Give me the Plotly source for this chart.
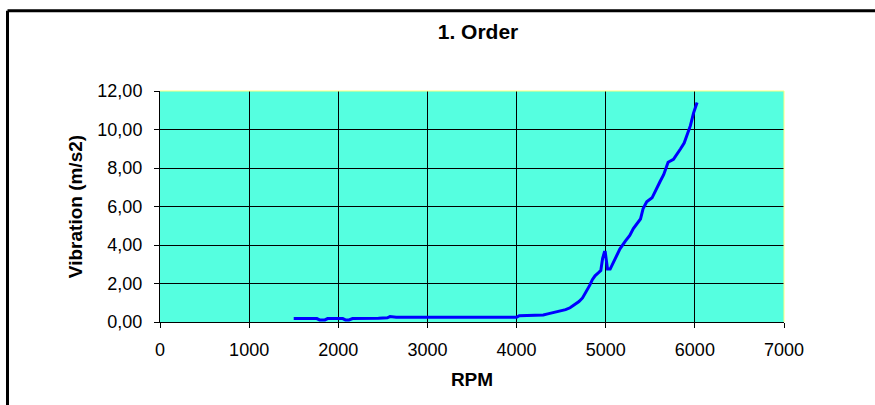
import plotly.graph_objects as go

# ---- data ----
rpm = [1500, 1600, 1700, 1760, 1790, 1850, 1880, 1950, 2050, 2080, 2120, 2160, 2250, 2350, 2450, 2550,
       2580, 2650, 2800, 3000, 3200, 3400, 3600, 3800, 4000, 4030, 4150, 4300, 4350, 4400, 4450,
       4500, 4550, 4600, 4650, 4700, 4740, 4780, 4820, 4850, 4880, 4910, 4945, 4965, 4985, 4995,
       5005, 5020, 5050, 5080, 5110, 5160, 5220, 5270, 5310, 5350, 5390, 5420, 5460, 5520, 5570,
       5610, 5650, 5700, 5760, 5800, 5840, 5880, 5910, 5950, 5985, 6005, 6025]
vib = [0.18, 0.18, 0.18, 0.18, 0.11, 0.11, 0.18, 0.18, 0.18, 0.11, 0.11, 0.18, 0.18, 0.2, 0.2, 0.22,
       0.28, 0.25, 0.25, 0.25, 0.25, 0.25, 0.25, 0.25, 0.25, 0.33, 0.34, 0.36, 0.42, 0.47, 0.51,
       0.56, 0.64, 0.74, 0.88, 1.06, 1.25, 1.55, 1.9, 2.2, 2.4, 2.52, 2.68, 3.3, 3.62, 3.62,
       3.2, 2.75, 2.75, 3.05, 3.38, 3.8, 4.2, 4.5, 4.85, 5.1, 5.35, 5.9, 6.25, 6.45, 6.95,
       7.3, 7.65, 8.3, 8.45, 8.7, 9.0, 9.3, 9.65, 10.2, 10.85, 11.1, 11.4]

x_ticks = [0, 1000, 2000, 3000, 4000, 5000, 6000, 7000]
x_labels = ["0", "1000", "2000", "3000", "4000", "5000", "6000", "7000"]
y_ticks = [0, 2, 4, 6, 8, 10, 12]
y_labels = ["0,00", "2,00", "4,00", "6,00", "8,00", "10,00", "12,00"]

title_text = "1. Order"
x_title = "RPM"
y_title = "Vibration (m/s2)"

# ---- layout geometry (pixels) ----
W, H = 875, 405
L, R, T, B = 160, 91, 91, 83
pw, ph = W - L - R, H - T - B

def px_x(p):
    return (p - L) / pw

def px_y(p):
    return (H - B - p) / ph

FONT = "Liberation Sans, Arial, sans-serif"

fig = go.Figure()
fig.add_trace(go.Scatter(x=rpm, y=vib, mode="lines",
                         line=dict(color="#0000FF", width=3), showlegend=False,
                         hoverinfo="skip"))

axis_common = dict(showgrid=True, gridcolor="#000000", gridwidth=1,
                   showline=True, linecolor="#000000", linewidth=1,
                   ticks="outside", tickcolor="#000000", tickwidth=1,
                   zeroline=False, mirror=False,
                   tickfont=dict(family=FONT, size=18, color="#000000"))

fig.update_layout(
    width=W, height=H,
    margin=dict(l=L, r=R, t=T, b=B, autoexpand=False),
    paper_bgcolor="#FFFFFF",
    plot_bgcolor="#55FFE0",
    font=dict(family=FONT, color="#000000"),
    title=dict(text="<b>" + title_text + "</b>", xref="container", yref="container",
               x=478 / W, y=1 - 32 / H, xanchor="center", yanchor="middle",
               font=dict(family=FONT, size=21, color="#000000")),
    xaxis=dict(range=[0, 7000], tickvals=x_ticks, ticktext=x_labels, ticklen=5,
               ticklabelstandoff=6,
               title=dict(text="<b>" + x_title + "</b>", standoff=14,
                          font=dict(family=FONT, size=19, color="#000000")),
               **axis_common),
    yaxis=dict(range=[0, 12], tickvals=y_ticks, ticktext=y_labels, ticklen=5,
               ticklabelstandoff=8,
               title=dict(text="<b>" + y_title + "</b>", standoff=9,
                          font=dict(family=FONT, size=19, color="#000000")),
               **axis_common),
    shapes=[
        # pale yellow plot-area border on top and right
        dict(type="line", xref="paper", yref="paper", x0=0, x1=1, y0=1, y1=1,
             line=dict(color="#FFFF80", width=1), layer="above"),
        dict(type="line", xref="paper", yref="paper", x0=1, x1=1, y0=0, y1=1,
             line=dict(color="#FFFF80", width=1), layer="above"),
        # outer chart border (cropped at right and bottom)
        dict(type="line", xref="paper", yref="paper",
             x0=px_x(7.5), x1=px_x(W + 10), y0=px_y(10.8), y1=px_y(10.8),
             line=dict(color="#000000", width=3)),
        dict(type="line", xref="paper", yref="paper",
             x0=px_x(7.5), x1=px_x(7.5), y0=px_y(10.8), y1=px_y(H + 10),
             line=dict(color="#000000", width=3)),
    ],
)

fig.write_html("out.html", config={"displayModeBar": False},
               post_script="document.body.style.margin='0';document.body.style.padding='0';")
